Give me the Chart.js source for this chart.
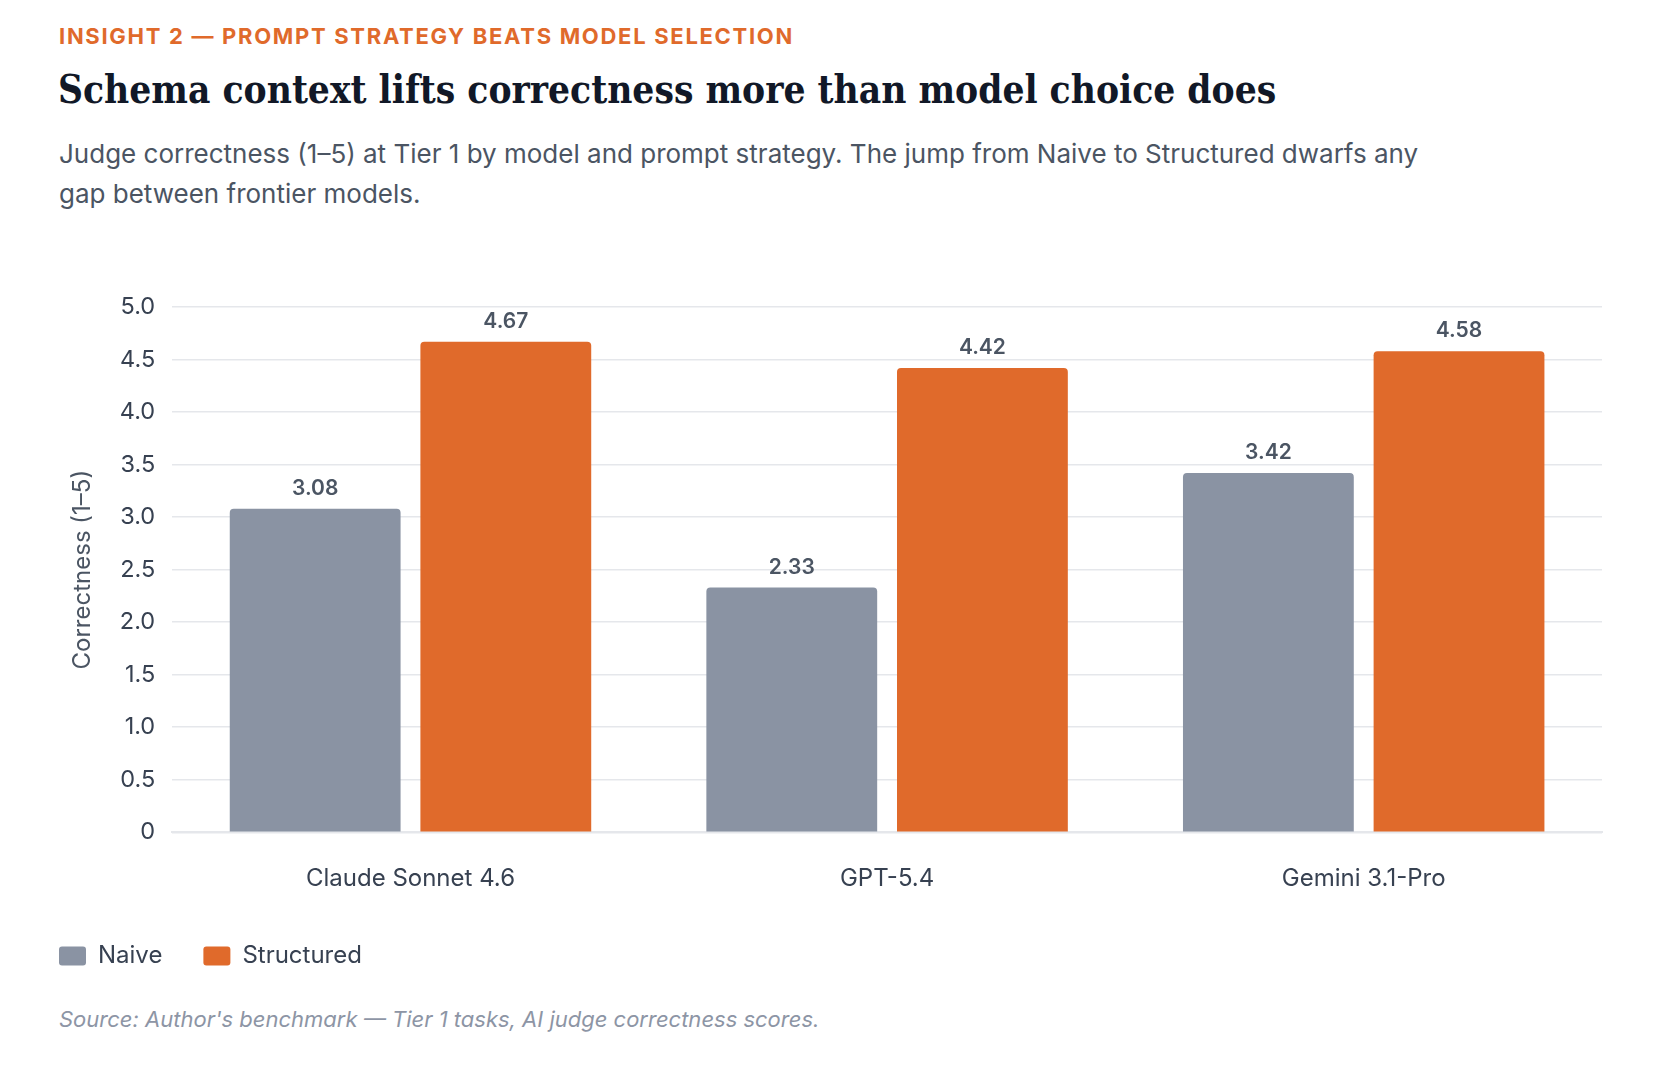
<!DOCTYPE html>
<html lang="en">
<head>
<meta charset="UTF-8">
<title>Schema context lifts correctness</title>
<script src="https://cdn.jsdelivr.net/npm/chart.js@4.4.1/dist/chart.umd.min.js"></script>
<style>
  html, body { margin:0; padding:0; background:#fff; }
  body { width:1672px; height:1076px; position:relative; font-family:Inter, "Noto Sans", sans-serif; }
  .eyebrow { position:absolute; left:59px; top:23px; font-size:22px; font-weight:700; letter-spacing:1.7px; color:#e06a2b; line-height:26px; }
  .title { position:absolute; left:58px; top:65px; font-family:"DejaVu Serif", serif; font-stretch:condensed; font-weight:700; font-size:38.5px; color:#111827; line-height:50px; white-space:nowrap; }
  .sub { position:absolute; left:59px; top:134px; font-size:26px; color:#4b5563; line-height:39.5px; white-space:nowrap; }
  .source { position:absolute; left:59px; top:1006px; font-size:22px; font-style:italic; color:#8d95a5; line-height:26px; }
  #wrap { position:absolute; left:18px; top:270px; width:1586px; height:708px; }
</style>
</head>
<body>
<div class="eyebrow">INSIGHT 2 — PROMPT STRATEGY BEATS MODEL SELECTION</div>
<div class="title">Schema context lifts correctness more than model choice does</div>
<div class="sub">Judge correctness (1–5) at Tier 1 by model and prompt strategy. The jump from Naive to Structured dwarfs any<br>gap between frontier models.</div>
<div id="wrap"><canvas id="bars"></canvas></div>
<div class="source">Source: Author's benchmark — Tier 1 tasks, AI judge correctness scores.</div>

<script>
const models = ["Claude Sonnet 4.6", "GPT-5.4", "Gemini 3.1-Pro"];
const naive = [3.08, 2.33, 3.42];
const structured = [4.67, 4.42, 4.58];

// value labels above each bar
const valueLabels = {
  id: "valueLabels",
  afterDatasetsDraw(chart) {
    const ctx = chart.ctx;
    ctx.save();
    ctx.font = "600 21px Inter";
    ctx.fillStyle = "#4b5563";
    ctx.textAlign = "center";
    ctx.textBaseline = "middle";
    chart.data.datasets.forEach((ds, i) => {
      chart.getDatasetMeta(i).data.forEach((bar, j) => {
        ctx.fillText(ds.data[j].toFixed(2), bar.x, bar.y - 20);
      });
    });
    ctx.restore();
  }
};

new Chart(document.getElementById("bars"), {
  type: "bar",
  data: {
    labels: models,
    datasets: [
      { label: "Naive", data: naive, backgroundColor: "#8a93a3", borderRadius: 4, borderSkipped: "bottom" },
      { label: "Structured", data: structured, backgroundColor: "#e06a2b", borderRadius: 4, borderSkipped: "bottom" }
    ]
  },
  options: {
    responsive: true,
    maintainAspectRatio: false,
    animation: false,
    categoryPercentage: 0.8,
    barPercentage: 0.896,
    layout: { padding: { top: 37, right: 2, left: 0, bottom: 0 } },
    plugins: {
      legend: {
        position: "bottom",
        align: "start",
        labels: {
          boxWidth: 27, boxHeight: 19, padding: 41, color: "#374151",
          useBorderRadius: true, borderRadius: 3,
          font: { family: "Inter", size: 24 }
        }
      },
      tooltip: { enabled: false }
    },
    scales: {
      x: {
        grid: { display: false },
        border: { color: "#e5e7eb", width: 2 },
        ticks: { color: "#374151", padding: 24, font: { family: "Inter", size: 24 } },
        afterFit: axis => { axis.height = 70.7; }
      },
      y: {
        min: 0, max: 5,
        grid: { color: "#e5e7eb", lineWidth: 1.5, drawTicks: false },
        border: { display: false },
        ticks: {
          stepSize: 0.5, padding: 17, color: "#374151",
          font: { family: "Inter", size: 23.5 },
          callback: v => v === 0 ? "0" : v.toFixed(1)
        },
        title: {
          display: true, text: "Correctness (1–5)", color: "#4b5563",
          font: { family: "Inter", size: 24 },
          padding: { top: 50, bottom: 6 }
        }
      }
    }
  },
  plugins: [valueLabels]
});
</script>
</body>
</html>
